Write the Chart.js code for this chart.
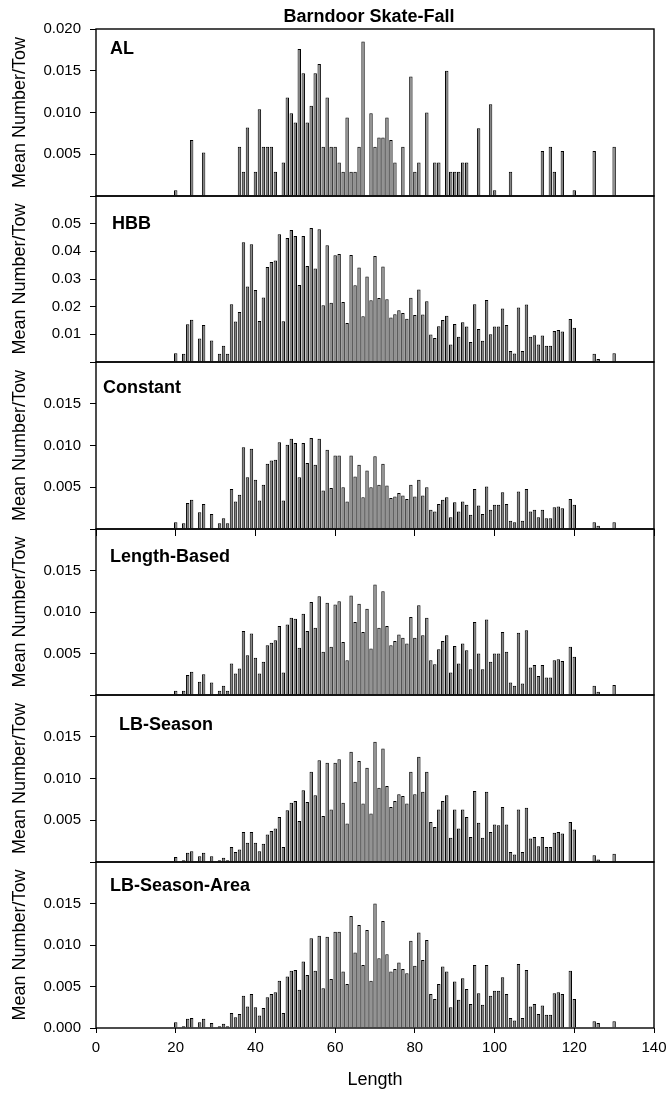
<!DOCTYPE html>
<html><head><meta charset="utf-8">
<script src="https://cdn.jsdelivr.net/npm/chart.js@4/dist/chart.umd.min.js"></script>
<style>
html,body{margin:0;padding:0;background:#fff;}
body{width:668px;height:1095px;position:relative;overflow:hidden;}
canvas{position:absolute;left:0;}
</style></head><body>
<script>
// ---------------- DATA ----------------
const chartTitle = 'Barndoor Skate-Fall';
const xTitle = 'Length';
const yTitle = 'Mean Number/Tow';
const panelNames = ['AL', 'HBB', 'Constant', 'Length-Based', 'LB-Season', 'LB-Season-Area'];
const xTickValues = [0, 20, 40, 60, 80, 100, 120, 140];

const lengthsAL = [20,24,27,36,37,38,40,41,42,43,44,45,47,48,49,50,51,52,53,54,55,56,57,58,59,60,61,62,63,64,65,66,67,69,70,71,72,73,74,75,77,79,80,81,83,85,86,88,89,90,91,92,93,96,99,100,104,112,114,115,117,120,125,130];
const valuesAL = [0.0007,0.0067,0.0052,0.0059,0.0029,0.0082,0.0029,0.0104,0.0059,0.0059,0.0059,0.0029,0.0040,0.0118,0.0099,0.0088,0.0176,0.0147,0.0088,0.0108,0.0147,0.0158,0.0059,0.0118,0.0059,0.0059,0.0040,0.0029,0.0094,0.0029,0.0029,0.0059,0.0185,0.0099,0.0059,0.0070,0.0070,0.0094,0.0067,0.0040,0.0059,0.0143,0.0029,0.0040,0.0100,0.0040,0.0040,0.0150,0.0029,0.0029,0.0029,0.0040,0.0040,0.0081,0.0110,0.0007,0.0029,0.0054,0.0059,0.0029,0.0054,0.0007,0.0054,0.0059];

const lengths = [20,22,23,24,26,27,29,31,32,33,
  34,35,36,37,38,39,40,41,42,43,
  44,45,46,47,48,49,50,51,52,53,
  54,55,56,57,58,59,60,61,62,63,
  64,65,66,67,68,69,70,71,72,73,
  74,75,76,77,78,79,80,81,82,83,
  84,85,86,87,88,89,90,91,92,93,
  94,95,96,97,98,99,100,101,102,103,
  104,105,106,107,108,109,110,111,112,113,
  114,115,116,117,119,120,125,126,130];

const valuesHBB = [0.0032,0.0030,0.0136,0.0153,0.0085,0.0134,0.0078,0.0030,0.0059,0.0030,
  0.0209,0.0146,0.0181,0.0433,0.0273,0.0426,0.0260,0.0148,0.0233,0.0343,
  0.0361,0.0367,0.0462,0.0147,0.0448,0.0477,0.0455,0.0278,0.0455,0.0347,
  0.0484,0.0338,0.0480,0.0205,0.0422,0.0214,0.0386,0.0390,0.0217,0.0141,
  0.0387,0.0277,0.0342,0.0165,0.0309,0.0223,0.0383,0.0231,0.0345,0.0227,
  0.0161,0.0173,0.0187,0.0177,0.0156,0.0232,0.0170,0.0262,0.0172,0.0220,
  0.0099,0.0087,0.0129,0.0152,0.0167,0.0063,0.0137,0.0091,0.0144,0.0128,
  0.0072,0.0209,0.0119,0.0077,0.0224,0.0100,0.0128,0.0128,0.0193,0.0134,
  0.0040,0.0031,0.0197,0.0040,0.0208,0.0091,0.0097,0.0063,0.0096,0.0059,
  0.0059,0.0112,0.0116,0.0110,0.0155,0.0124,0.0030,0.0011,0.0032];

const valuesConstant = [0.0008,0.0007,0.0031,0.0035,0.0020,0.0030,0.0018,0.0007,0.0013,0.0007,
  0.0048,0.0033,0.0041,0.0098,0.0062,0.0096,0.0059,0.0034,0.0053,0.0078,
  0.0082,0.0083,0.0104,0.0034,0.0101,0.0108,0.0103,0.0062,0.0103,0.0079,
  0.0109,0.0077,0.0108,0.0046,0.0095,0.0049,0.0088,0.0088,0.0050,0.0033,
  0.0088,0.0063,0.0077,0.0038,0.0070,0.0050,0.0087,0.0053,0.0078,0.0052,
  0.0037,0.0039,0.0043,0.0040,0.0036,0.0053,0.0039,0.0059,0.0040,0.0050,
  0.0023,0.0021,0.0030,0.0035,0.0038,0.0014,0.0032,0.0021,0.0033,0.0029,
  0.0017,0.0048,0.0028,0.0018,0.0051,0.0023,0.0029,0.0029,0.0044,0.0030,
  0.0010,0.0008,0.0045,0.0010,0.0048,0.0021,0.0023,0.0014,0.0023,0.0013,
  0.0013,0.0026,0.0027,0.0025,0.0036,0.0029,0.0008,0.0004,0.0008];

const valuesLengthBased = [0.0005,0.0005,0.0024,0.0028,0.0016,0.0025,0.0015,0.0005,0.0011,0.0005,
  0.0038,0.0026,0.0032,0.0077,0.0048,0.0074,0.0045,0.0026,0.0040,0.0060,
  0.0063,0.0066,0.0083,0.0027,0.0085,0.0093,0.0092,0.0057,0.0098,0.0077,
  0.0112,0.0081,0.0119,0.0052,0.0111,0.0058,0.0109,0.0113,0.0064,0.0042,
  0.0120,0.0088,0.0110,0.0076,0.0104,0.0056,0.0133,0.0081,0.0125,0.0083,
  0.0060,0.0065,0.0073,0.0069,0.0062,0.0094,0.0069,0.0108,0.0072,0.0093,
  0.0042,0.0037,0.0055,0.0065,0.0072,0.0027,0.0059,0.0038,0.0062,0.0054,
  0.0031,0.0088,0.0050,0.0031,0.0091,0.0040,0.0050,0.0050,0.0076,0.0052,
  0.0015,0.0011,0.0075,0.0014,0.0078,0.0033,0.0036,0.0023,0.0036,0.0021,
  0.0021,0.0042,0.0043,0.0041,0.0058,0.0046,0.0011,0.0004,0.0012];

const valuesLBSeason = [0.0006,0.0002,0.0011,0.0013,0.0007,0.0011,0.0007,0.0002,0.0005,0.0002,
  0.0018,0.0012,0.0015,0.0036,0.0023,0.0036,0.0023,0.0013,0.0022,0.0033,
  0.0037,0.0040,0.0054,0.0018,0.0062,0.0071,0.0073,0.0049,0.0086,0.0072,
  0.0108,0.0080,0.0122,0.0055,0.0119,0.0063,0.0119,0.0123,0.0071,0.0046,
  0.0132,0.0096,0.0121,0.0070,0.0113,0.0058,0.0144,0.0089,0.0136,0.0091,
  0.0066,0.0073,0.0081,0.0079,0.0070,0.0108,0.0081,0.0126,0.0084,0.0108,
  0.0048,0.0042,0.0063,0.0073,0.0080,0.0029,0.0063,0.0040,0.0063,0.0054,
  0.0030,0.0085,0.0047,0.0029,0.0084,0.0036,0.0045,0.0044,0.0066,0.0045,
  0.0012,0.0009,0.0063,0.0012,0.0065,0.0028,0.0030,0.0019,0.0030,0.0018,
  0.0018,0.0035,0.0036,0.0034,0.0048,0.0039,0.0008,0.0003,0.0010];

const valuesLBSeasonArea = [0.0007,0.0002,0.0011,0.0012,0.0007,0.0011,0.0006,0.0002,0.0005,0.0002,
  0.0018,0.0013,0.0017,0.0039,0.0026,0.0041,0.0025,0.0015,0.0024,0.0037,
  0.0041,0.0043,0.0057,0.0018,0.0062,0.0069,0.0070,0.0046,0.0080,0.0064,
  0.0108,0.0069,0.0111,0.0048,0.0110,0.0059,0.0116,0.0116,0.0068,0.0053,
  0.0135,0.0091,0.0124,0.0076,0.0118,0.0057,0.0150,0.0084,0.0129,0.0089,
  0.0068,0.0071,0.0079,0.0071,0.0066,0.0105,0.0075,0.0115,0.0082,0.0106,
  0.0041,0.0035,0.0053,0.0074,0.0068,0.0025,0.0056,0.0034,0.0060,0.0047,
  0.0029,0.0076,0.0042,0.0028,0.0076,0.0039,0.0045,0.0045,0.0061,0.0041,
  0.0012,0.0009,0.0077,0.0012,0.0070,0.0026,0.0029,0.0017,0.0027,0.0016,
  0.0016,0.0042,0.0043,0.0041,0.0069,0.0035,0.0008,0.0006,0.0008];

const yMaxes = [0.02, 0.06, 0.02, 0.02, 0.02, 0.02];
const yStepSizes = [0.005, 0.01, 0.005, 0.005, 0.005, 0.005];

// ---------------- LAYOUT / STYLE ----------------
const W = 668, H = 1095, CW = 700;
const PLOT_LEFT = 96, PLOT_RIGHT = 654;
const panelEdges = [29, 196, 362, 529, 695, 862, 1028];
const PAD = 22;
const FONT = '"Liberation Sans", Arial, Helvetica, sans-serif';
const labelPos = [
  {x: 110, base: 25}, {x: 112, base: 33}, {x: 103, base: 31},
  {x: 110, base: 33}, {x: 119, base: 35}, {x: 110, base: 29}
];
const panelSeries = [
  {xs: lengthsAL, ys: valuesAL},
  {xs: lengths, ys: valuesHBB},
  {xs: lengths, ys: valuesConstant},
  {xs: lengths, ys: valuesLengthBased},
  {xs: lengths, ys: valuesLBSeason},
  {xs: lengths, ys: valuesLBSeasonArea}
];

Chart.defaults.font.family = FONT;
Chart.defaults.color = '#000';

const framePlugin = {
  id: 'frame',
  afterDatasetsDraw(chart) {
    const {ctx, chartArea: a} = chart;
    ctx.save();
    ctx.strokeStyle = '#000';
    ctx.lineWidth = 1.4;
    ctx.strokeRect(a.left, a.top, a.right - a.left, a.bottom - a.top);
    ctx.restore();
  }
};

const textPlugin = {
  id: 'panelText',
  afterDraw(chart, args, opts) {
    const {ctx, chartArea: a} = chart;
    ctx.save();
    ctx.fillStyle = '#000';
    ctx.font = 'bold 18px ' + FONT;
    ctx.textBaseline = 'alphabetic';
    ctx.textAlign = 'left';
    ctx.fillText(opts.label, opts.x, a.top + opts.base);
    if (opts.title) {
      ctx.textAlign = 'center';
      ctx.fillText(opts.title, opts.titleX, opts.titleBase);
    }
    ctx.restore();
  }
};

panelNames.forEach((name, i) => {
  const top = panelEdges[i], bottom = panelEdges[i + 1];
  const isLast = i === panelNames.length - 1;
  const canvasTop = i === 0 ? 0 : top - PAD;
  const canvasBottom = isLast ? H : bottom + PAD;
  const padTop = top - canvasTop;
  const padBottom = isLast ? 0 : PAD;
  const yMax = yMaxes[i], step = yStepSizes[i];
  const dec = step < 0.01 ? 3 : 2;

  const cv = document.createElement('canvas');
  cv.width = CW; cv.height = canvasBottom - canvasTop;
  cv.style.top = canvasTop + 'px';
  cv.style.width = CW + 'px'; cv.style.height = (canvasBottom - canvasTop) + 'px';
  document.body.appendChild(cv);

  const s = panelSeries[i];
  const data = s.xs.map((x, k) => ({x: x, y: s.ys[k]}));

  const xScale = {
    type: 'linear', min: 0, max: 140, offset: false,
    afterBuildTicks: sc => { sc.ticks = xTickValues.map(v => ({value: v})); },
    grid: {offset: false, drawOnChartArea: false, drawTicks: true, tickLength: 5, color: '#000', lineWidth: 1},
    border: {display: false}
  };
  if (isLast) {
    xScale.display = true;
    xScale.ticks = {font: {size: 15}, color: '#000', padding: 6, maxRotation: 0, autoSkip: false};
    xScale.title = {display: true, text: xTitle, font: {size: 18}, color: '#000', padding: {top: 0, bottom: 4}};
    xScale.afterFit = sc => { sc.height = H - panelEdges[6]; };
  } else if (i === 2) {
    xScale.display = true;
    xScale.ticks = {display: false};
    xScale.grid.tickLength = 7;
    xScale.afterFit = sc => { sc.height = 0; };
  } else {
    xScale.display = false;
  }

  new Chart(cv, {
    type: 'bar',
    data: {datasets: [{
      data: data,
      backgroundColor: '#858585',
      borderColor: '#000',
      borderWidth: 1,
      borderSkipped: 'start',
      barPercentage: 0.86,
      categoryPercentage: 1.0
    }]},
    options: {
      responsive: false, animation: false, devicePixelRatio: 1,
      layout: {padding: {left: 0, right: CW - PLOT_RIGHT, top: padTop, bottom: padBottom}},
      plugins: {
        legend: {display: false}, tooltip: {enabled: false},
        panelText: {label: name, x: labelPos[i].x, base: labelPos[i].base,
          title: i === 0 ? chartTitle : null, titleX: 369, titleBase: 21.5}
      },
      scales: {
        x: xScale,
        y: {
          type: 'linear', min: 0, max: yMax,
          ticks: {
            stepSize: step, font: {size: 15}, color: '#000', padding: 9,
            callback: v => {
              const atZero = Math.abs(v) < 1e-9;
              const atMax = Math.abs(v - yMax) < 1e-9;
              if (atZero && !isLast) return '';
              if (atMax && i !== 0) return '';
              return Number(v).toFixed(dec);
            }
          },
          grid: {drawOnChartArea: false, drawTicks: true, tickLength: 6, color: '#000', lineWidth: 1},
          border: {display: false},
          title: {display: true, text: yTitle, font: {size: 18}, color: '#000', padding: {top: 9, bottom: 0}},
          afterFit: sc => { sc.width = PLOT_LEFT; }
        }
      }
    },
    plugins: [framePlugin, textPlugin]
  });
});
</script>
</body></html>
